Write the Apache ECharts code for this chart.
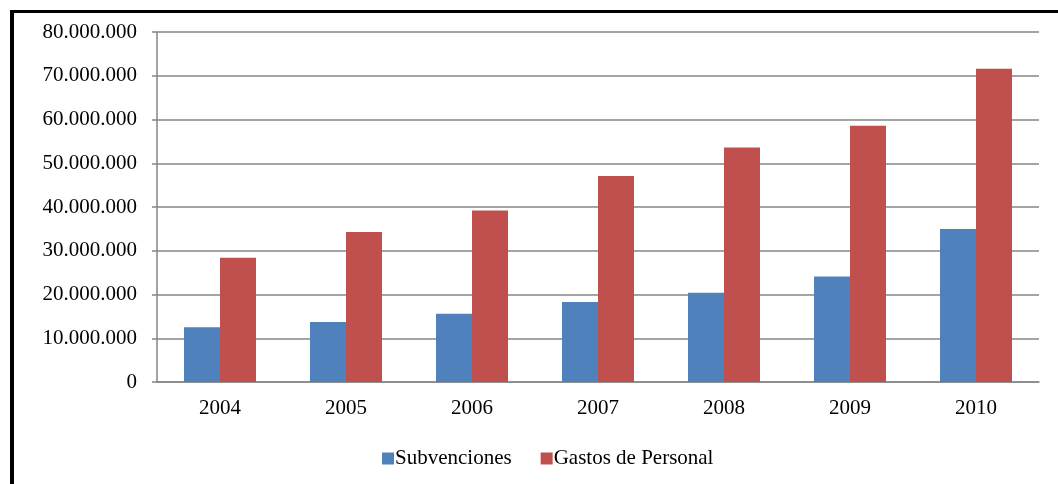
<!DOCTYPE html>
<html>
<head>
<meta charset="utf-8">
<script src="https://cdn.jsdelivr.net/npm/echarts@6/dist/echarts.min.js"></script>
<style>
html, body { margin: 0; padding: 0; background: #fff; }
#chart { width: 1058px; height: 484px; }
</style>
</head>
<body>
<div id="chart"></div>
<script>
// años y valores
var years = ['2004', '2005', '2006', '2007', '2008', '2009', '2010'];
var subvenciones = [12500000, 13700000, 15600000, 18300000, 20400000, 24100000, 35000000];
var gastosPersonal = [28400000, 34300000, 39200000, 47100000, 53600000, 58600000, 71600000];

function fmtMiles(v) {
    return String(v).replace(/\B(?=(\d{3})+(?!\d))/g, '.');
}

var myChart = echarts.init(document.getElementById('chart'));
var font = 'Liberation Serif';

var option = {
    animation: false,
    textStyle: { fontFamily: font },
    graphic: [
        { type: 'line', shape: { x1: 10, y1: 11.5, x2: 1058, y2: 11.5 }, style: { stroke: '#000', lineWidth: 3 } },
        { type: 'line', shape: { x1: 12, y1: 10, x2: 12, y2: 484 }, style: { stroke: '#000', lineWidth: 4 } }
    ],
    grid: {
        left: 157,
        right: 19,
        top: 32,
        bottom: 102
    },
    legend: {
        left: 377,
        top: 443,
        itemWidth: 12,
        itemHeight: 12,
        itemGap: 29,
        icon: 'rect',
        textStyle: { fontFamily: font, fontSize: 21, color: '#000', padding: [0, 0, 0, -4] },
        data: ['Subvenciones', 'Gastos de Personal']
    },
    xAxis: {
        type: 'category',
        data: years,
        axisLine: { lineStyle: { color: '#868686', width: 1.5 } },
        axisTick: { length: 6, lineStyle: { color: '#868686', width: 1.5 } },
        axisLabel: { fontFamily: font, fontSize: 21, color: '#000', margin: 16 }
    },
    yAxis: {
        type: 'value',
        min: 0,
        max: 80000000,
        interval: 10000000,
        axisLine: { show: true, lineStyle: { color: '#868686', width: 1.5 } },
        axisTick: { show: true, length: 5, lineStyle: { color: '#868686', width: 1.5 } },
        splitLine: { lineStyle: { color: '#868686', width: 1.5 } },
        axisLabel: {
            fontFamily: font,
            fontSize: 21,
            color: '#000',
            margin: 20,
            formatter: fmtMiles
        }
    },
    series: [
        {
            name: 'Subvenciones',
            type: 'bar',
            data: subvenciones,
            barWidth: 36,
            barGap: '0%',
            itemStyle: { color: '#4F81BD' }
        },
        {
            name: 'Gastos de Personal',
            type: 'bar',
            data: gastosPersonal,
            barWidth: 36,
            itemStyle: { color: '#C0504D' }
        }
    ]
};

option && myChart.setOption(option);
</script>
</body>
</html>
